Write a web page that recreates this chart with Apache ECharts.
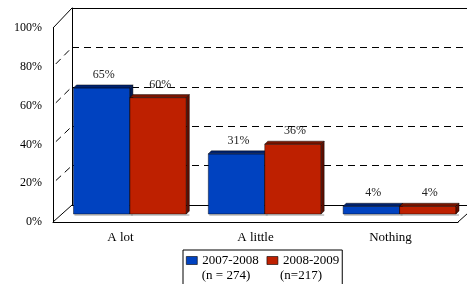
<!DOCTYPE html>
<html>
<head>
<meta charset="utf-8">
<script src="https://cdn.jsdelivr.net/npm/echarts@6/dist/echarts.min.js"></script>
<style>
  html, body { margin: 0; padding: 0; background: #fff; }
  #chart { width: 467px; height: 284px; }
</style>
</head>
<body>
<div id="chart"></div>
<script>
// chart data
const categories = ['A lot', 'A little', 'Nothing'];
const seriesNames = ['2007-2008', '2008-2009'];
const sampleNotes = ['(n = 274)', '(n=217)'];
const values0708 = [65, 31, 4];
const values0809 = [60, 36, 4];
const yTicks = [0, 20, 40, 60, 80, 100];

const FONT = '"Liberation Serif", "Times New Roman", serif';

// layout of the pseudo-3D box
const FRONT = { left: 53, top: 28, width: 405, height: 194 };
const BACK = { left: 72, top: 8, width: 405, height: 197 };
const MID = { left: 62.5, top: 20, width: 405, height: 194 };
const BAR_FRAC = 0.4185;
const DEPTH = 3;

const colors = [
  { front: '#0042C0', top: '#00226E', side: '#001A55' },
  { front: '#BE2000', top: '#7A1500', side: '#5E0E00' }
];

const chartDom = document.getElementById('chart');
const chart = echarts.init(chartDom);

// 3D bar renderer
const makeRender = (idx) => (params, api) => {
  const cat = api.value(0);
  const val = api.value(1);
  const band = api.size([1, 0])[0];
  const w = band * BAR_FRAC;
  const base = api.coord([cat, 0]);
  const top = api.coord([cat, val]);
  const x0 = base[0] + (idx === 0 ? -w : 0);
  const x1 = x0 + w;
  const yT = top[1];
  const yB = base[1];
  const c = colors[idx];
  const d = DEPTH;
  const edge = { stroke: 'rgba(0,0,0,0.55)', lineWidth: 0.8 };
  return {
    type: 'group',
    children: [
      { type: 'line', shape: { x1: x0 + 1, y1: yB + 1, x2: x1 + d, y2: yB + 1 }, style: { stroke: '#999', lineWidth: 1.2 } },
      { type: 'rect', shape: { x: x0, y: yT, width: w, height: yB - yT }, style: Object.assign({ fill: c.front }, edge) },
      { type: 'polygon', shape: { points: [[x0, yT], [x1, yT], [x1 + d, yT - d], [x0 + d, yT - d]] }, style: Object.assign({ fill: c.top }, edge) },
      { type: 'polygon', shape: { points: [[x1, yT], [x1 + d, yT - d], [x1 + d, yB - d], [x1, yB]] }, style: Object.assign({ fill: c.side }, edge) },
      {
        type: 'text',
        style: {
          text: val + '%', x: x0 + w / 2 + 2, y: yT - d - 4,
          align: 'center', verticalAlign: 'bottom',
          fill: '#222', font: '12px ' + FONT
        }
      }
    ]
  };
};

const option = {
  animation: false,
  backgroundColor: '#fff',
  textStyle: { fontFamily: FONT },
  grid: [
    Object.assign({}, FRONT),
    Object.assign({}, BACK),
    Object.assign({}, MID)
  ],
  xAxis: [
    {
      type: 'category', gridIndex: 0, data: categories,
      axisLine: { lineStyle: { color: '#000', width: 1 } },
      axisTick: { show: false },
      axisLabel: { color: '#000', fontSize: 13, fontFamily: FONT, margin: 9 },
      splitLine: { show: false }
    },
    {
      type: 'category', gridIndex: 1, data: categories, position: 'bottom',
      axisLine: { lineStyle: { color: '#000', width: 1 } },
      axisTick: { show: false }, axisLabel: { show: false }
    },
    {
      type: 'category', gridIndex: 1, data: categories, position: 'top',
      axisLine: { lineStyle: { color: '#000', width: 1 } },
      axisTick: { show: false }, axisLabel: { show: false }
    },
    {
      type: 'category', gridIndex: 2, data: categories, show: false
    }
  ],
  yAxis: [
    {
      type: 'value', gridIndex: 0, min: 0, max: 100, interval: 20,
      axisLine: { show: true, lineStyle: { color: '#000', width: 1 } },
      axisTick: { show: false },
      axisLabel: { formatter: '{value}%', color: '#000', fontSize: 12, fontFamily: FONT, margin: 11 },
      splitLine: { show: false }
    },
    {
      type: 'value', gridIndex: 1, min: 0, max: 100, interval: 20,
      axisLine: { show: true, lineStyle: { color: '#000', width: 1 } },
      axisTick: { show: false }, axisLabel: { show: false },
      splitLine: { show: true, lineStyle: { color: '#000', width: 1, type: [7, 5] } }
    },
    {
      type: 'value', gridIndex: 2, min: 0, max: 100, show: false
    }
  ],
  legend: {
    data: seriesNames,
    left: 183, top: 250,
    orient: 'horizontal',
    icon: 'rect',
    itemWidth: 11, itemHeight: 8, itemGap: 8,
    padding: [4, 3, 18, 3],
    borderColor: '#000', borderWidth: 1,
    itemStyle: { borderColor: '#000', borderWidth: 0.6 },
    textStyle: { color: '#000', fontSize: 13, fontFamily: FONT }
  },
  series: [
    {
      name: seriesNames[0], type: 'custom', xAxisIndex: 3, yAxisIndex: 2,
      itemStyle: { color: colors[0].front },
      renderItem: makeRender(0),
      data: values0708.map((v, i) => [i, v])
    },
    {
      name: seriesNames[1], type: 'custom', xAxisIndex: 3, yAxisIndex: 2,
      itemStyle: { color: colors[1].front },
      renderItem: makeRender(1),
      data: values0809.map((v, i) => [i, v])
    }
  ]
};

chart.setOption(option);

// side wall / floor edges and legend notes
const graphics = [];
yTicks.forEach((t) => {
  const yf = chart.convertToPixel({ yAxisIndex: 0 }, t);
  const yb = chart.convertToPixel({ yAxisIndex: 1 }, t);
  const solid = t === 0 || t === 100;
  graphics.push({
    type: 'line', z: 1,
    shape: { x1: FRONT.left, y1: yf, x2: BACK.left, y2: yb },
    style: { stroke: '#000', lineWidth: 1, lineDash: solid ? null : [7, 5], lineDashOffset: solid ? 0 : -4 }
  });
});
const yf0 = chart.convertToPixel({ yAxisIndex: 0 }, 0);
const yb0 = chart.convertToPixel({ yAxisIndex: 1 }, 0);
graphics.push({
  type: 'line', z: 1,
  shape: { x1: FRONT.left + FRONT.width, y1: yf0, x2: BACK.left + FRONT.width, y2: yb0 },
  style: { stroke: '#000', lineWidth: 1 }
});
const noteX = [226, 301];
sampleNotes.forEach((s, i) => {
  graphics.push({
    type: 'text', z: 10,
    style: { text: s, x: noteX[i], y: 276, align: 'center', verticalAlign: 'middle', fill: '#000', font: '13px ' + FONT }
  });
});
chart.setOption({ graphic: graphics });

window.addEventListener('resize', () => chart.resize());
</script>
</body>
</html>
